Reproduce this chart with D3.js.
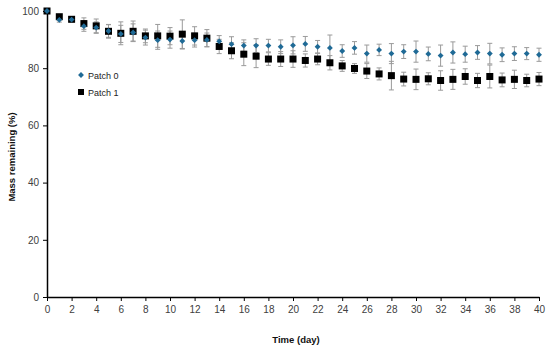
<!DOCTYPE html>
<html>
<head>
<meta charset="utf-8">
<script src="https://cdn.jsdelivr.net/npm/d3@7"></script>
<style>
  body { margin: 0; background: #fff; }
  svg { font-family: "Liberation Sans", Arial, sans-serif; }
</style>
</head>
<body>
<svg id="chart" width="550" height="352"></svg>
<script>
// days 0..40
var days = d3.range(0, 41);

// Patch 0 (blue diamonds)
var patch0 = [100, 96.9, 97.0, 94.7, 94.2, 93.0, 92.0, 92.5, 90.7, 89.8,
  90.0, 89.5, 89.8, 89.9, 89.4, 88.4, 87.9, 87.9, 87.9, 87.5,
  88.0, 88.5, 87.5, 87.1, 86.0, 87.1, 85.1, 86.4, 85.1, 85.8,
  85.8, 85.0, 84.4, 85.5, 84.9, 85.5, 85.1, 84.7, 85.1, 85.1, 84.7];
var patch0Err = [0, 0.8, 0.8, 1.8, 2.0, 2.2, 3.0, 3.0, 2.6, 3.2,
  3.0, 2.8, 2.4, 2.4, 2.0, 2.6, 2.0, 2.4, 2.2, 2.4,
  3.0, 2.6, 2.2, 4.5, 2.2, 2.2, 3.0, 2.0, 3.5, 2.4,
  3.7, 2.4, 3.7, 3.7, 2.8, 2.4, 3.6, 2.4, 2.4, 2.1, 2.3];

// Patch 1 (black squares)
var patch1 = [100, 98.0, 97.1, 95.6, 94.8, 92.9, 92.2, 92.9, 91.3, 91.3,
  91.2, 91.9, 91.3, 90.5, 87.6, 86.1, 84.9, 84.2, 83.2, 83.2,
  83.2, 82.7, 83.2, 81.9, 80.8, 79.9, 79.0, 78.0, 77.4, 76.2,
  76.1, 76.3, 75.7, 76.1, 77.1, 75.7, 77.1, 75.9, 76.1, 75.7, 76.2];
var patch1Err = [0, 0.6, 0.6, 2.0, 2.4, 2.4, 4.0, 3.6, 2.4, 4.0,
  3.0, 5.0, 3.2, 3.0, 2.5, 2.8, 4.0, 4.0, 2.2, 2.6,
  2.9, 2.3, 2.0, 2.5, 1.9, 1.7, 2.6, 2.1, 5.0, 2.4,
  3.6, 2.1, 3.4, 3.5, 2.7, 2.5, 4.0, 2.4, 3.2, 2.2, 2.3];

var xTicks = d3.range(0, 41, 2);
var yTicks = [0, 20, 40, 60, 80, 100];

var svg = d3.select('#chart');
var x = d3.scaleLinear().domain([0, 40]).range([47, 539]);
var y = d3.scaleLinear().domain([0, 100]).range([297, 11]);

var blue = '#1f6a96';
var errColor = '#9a9a9a';

// axes
var xAxis = svg.append('g')
  .attr('transform', 'translate(0,' + y(0) + ')')
  .call(d3.axisBottom(x).tickValues(xTicks).tickSize(4).tickSizeOuter(0).tickPadding(5));
var yAxis = svg.append('g')
  .attr('transform', 'translate(' + x(0) + ',0)')
  .call(d3.axisLeft(y).tickValues(yTicks).tickSize(4).tickSizeOuter(0).tickPadding(4));

[xAxis, yAxis].forEach(function (g) {
  g.select('.domain').attr('stroke', '#000').attr('stroke-width', 1.5);
  g.selectAll('.tick line').attr('stroke', '#000').attr('stroke-width', 1);
  g.selectAll('.tick text')
    .attr('fill', '#404040')
    .style('font-size', '10px')
    .style('font-family', '"Liberation Sans", Arial, sans-serif');
});

// error bars
var drawErr = function (vals, errs, cls) {
  var rows = days.map(function (d, i) { return {d: d, v: vals[i], e: errs[i]}; })
    .filter(function (r) { return r.e > 0; });
  var g = svg.append('g').attr('class', cls)
    .attr('stroke', errColor).attr('stroke-width', 1);
  g.selectAll('line.v').data(rows).enter().append('line')
    .attr('x1', function (r) { return x(r.d); })
    .attr('x2', function (r) { return x(r.d); })
    .attr('y1', function (r) { return y(r.v + r.e); })
    .attr('y2', function (r) { return y(r.v - r.e); });
  [1, -1].forEach(function (s) {
    g.selectAll('line.c' + s).data(rows).enter().append('line')
      .attr('x1', function (r) { return x(r.d) - 2.5; })
      .attr('x2', function (r) { return x(r.d) + 2.5; })
      .attr('y1', function (r) { return y(r.v + s * r.e); })
      .attr('y2', function (r) { return y(r.v + s * r.e); });
  });
};
drawErr(patch0, patch0Err, 'err0');
drawErr(patch1, patch1Err, 'err1');

// markers
svg.append('g').selectAll('rect').data(days).enter().append('rect')
  .attr('x', function (d, i) { return x(d) - 3.5; })
  .attr('y', function (d, i) { return y(patch1[i]) - 3.5; })
  .attr('width', 7).attr('height', 7)
  .attr('fill', '#000');

var diamond = d3.symbol().type(d3.symbolDiamond2).size(22);
svg.append('g').selectAll('path').data(days).enter().append('path')
  .attr('d', diamond)
  .attr('transform', function (d, i) { return 'translate(' + x(d) + ',' + y(patch0[i]) + ')'; })
  .attr('fill', blue);

// legend
var leg = svg.append('g').style('font-size', '9px').attr('fill', '#222');
leg.append('path').attr('d', diamond).attr('transform', 'translate(81,75)').attr('fill', blue);
leg.append('text').attr('x', 88).attr('y', 78.5).text('Patch 0');
leg.append('rect').attr('x', 78).attr('y', 89).attr('width', 6).attr('height', 6).attr('fill', '#000');
leg.append('text').attr('x', 88).attr('y', 95.5).text('Patch 1');

// axis titles
svg.append('text')
  .attr('x', 296).attr('y', 343)
  .attr('text-anchor', 'middle')
  .style('font-size', '9.5px').style('font-weight', 'bold')
  .attr('fill', '#111')
  .text('Time (day)');
svg.append('text')
  .attr('transform', 'translate(15,157) rotate(-90)')
  .attr('text-anchor', 'middle')
  .style('font-size', '9.5px').style('font-weight', 'bold')
  .attr('fill', '#111')
  .text('Mass remaining (%)');
</script>
</body>
</html>
